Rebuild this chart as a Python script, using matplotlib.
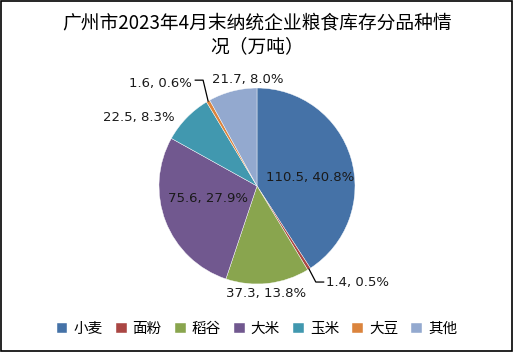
import numpy as np
import matplotlib
matplotlib.use('Agg')
import matplotlib.pyplot as plt
from matplotlib.patches import Rectangle

plt.rcParams['font.family'] = ['Noto Sans CJK SC', 'DejaVu Sans']

categories = ['小麦', '面粉', '稻谷', '大米', '玉米', '大豆', '其他']
values = [110.5, 1.4, 37.3, 75.6, 22.5, 1.6, 21.7]
pct_labels = ['40.8%', '0.5%', '13.8%', '27.9%', '8.3%', '0.6%', '8.0%']
colors = ['#4572A7', '#AA4643', '#89A54E', '#71588F', '#4198AF', '#DB843D', '#93A9CF']

# label layout in pie units (radius = 1)
label_pos = [(0.54, 0.09), (1.03, -0.98), (0.09, -1.10), (-0.50, -0.13),
             (-1.21, 0.70), (-0.99, 1.05), (-0.09, 1.09)]
corner = {1: (0.60, -0.98), 5: (-0.55, 1.08)}

fig = plt.figure(figsize=(5.14, 3.52), dpi=100)
fig.patches.append(Rectangle((0.001, 0.002), 0.995, 0.994, transform=fig.transFigure,
                             fill=False, edgecolor='black', linewidth=1.2))

ax = fig.add_axes([(257 - 98) / 514, (352 - 186 - 98) / 352, 196 / 514, 196 / 352])
wedges, _ = ax.pie(values, colors=colors, startangle=90, counterclock=False,
                   radius=1, wedgeprops=dict(edgecolor='white', linewidth=0.3))
ax.set_xlim(-1, 1)
ax.set_ylim(-1, 1)
ax.set_aspect('equal')

for i, w in enumerate(wedges):
    txt = '%s, %s' % (values[i], pct_labels[i])
    x, y = label_pos[i]
    ax.text(x, y, txt, ha='center', va='center', fontsize=9.5,
            family='DejaVu Sans', color='#1a1a1a', clip_on=False)
    if i in corner:
        mid = np.deg2rad((w.theta1 + w.theta2) / 2)
        ex, ey = np.cos(mid), np.sin(mid)
        cx, cy = corner[i]
        if i == 5:
            pts = [(-0.63, cy), (cx, cy), (ex, ey)]
        else:
            pts = [(ex, ey), (cx, cy), (0.68, cy)]
        ax.plot([p[0] for p in pts], [p[1] for p in pts], color='black',
                linewidth=0.9, clip_on=False)

fig.text(0.5, 1 - 12 / 352, '广州市2023年4月末纳统企业粮食库存分品种情\n况（万吨）',
         ha='center', va='top', fontsize=13.5, linespacing=1.2)

fig.legend(wedges, categories, loc='center', bbox_to_anchor=(0.5, 1 - 329 / 352),
           ncol=7, frameon=False, fontsize=10.5, handlelength=0.75, handleheight=0.75,
           handletextpad=0.4, columnspacing=0.9)

fig.savefig('out.png', dpi=100)
